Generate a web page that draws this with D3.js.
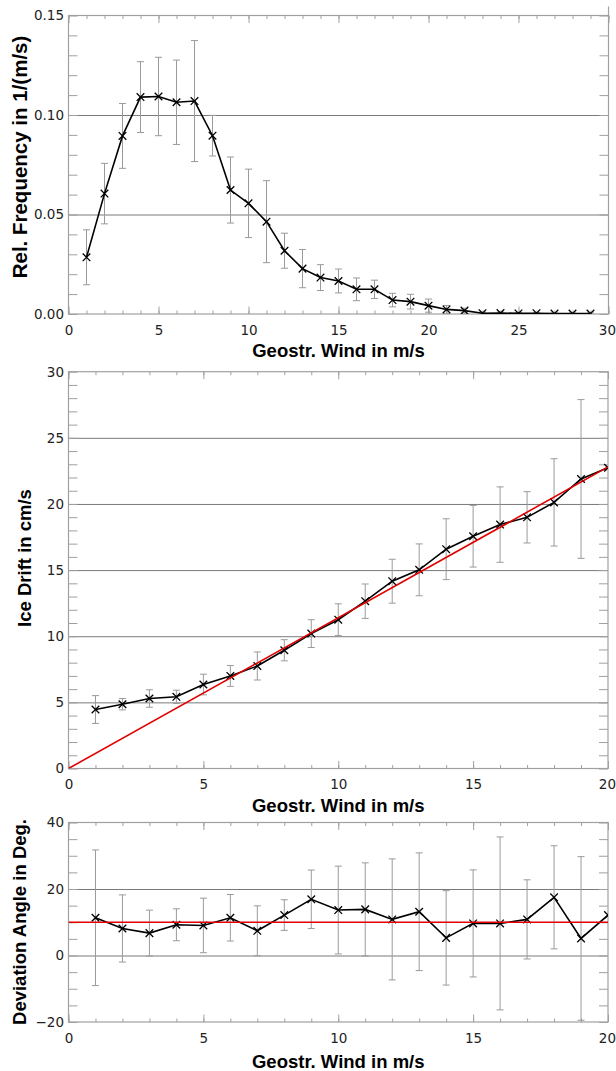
<!DOCTYPE html>
<html><head><meta charset="utf-8">
<script src="https://cdn.jsdelivr.net/npm/d3@7/dist/d3.min.js"></script>
<style>body{margin:0;background:#fff}</style>
</head><body>
<svg id="chart" width="616" height="1071" xmlns="http://www.w3.org/2000/svg"></svg>
<script>
// ---------- data ----------
const freqX = [1,2,3,4,5,6,7,8,9,10,11,12,13,14,15,16,17,18,19,20,21,22,23,24,25,26,27,28,29];
const freqY = [0.0285,0.0605,0.0895,0.1090,0.1093,0.1064,0.1070,0.0896,0.0623,0.0556,0.0464,0.0318,0.0228,0.0183,0.0166,0.0124,0.0124,0.0070,0.0062,0.0042,0.0023,0.0017,0.0004,0.0005,0.0003,0.0004,0.0002,0.0002,0.0002];
const freqErr = [0.0138,0.0152,0.0163,0.0178,0.0197,0.0212,0.0304,0.0102,0.0166,0.0172,0.0206,0.0088,0.0096,0.0065,0.0060,0.0057,0.0046,0.0034,0.0037,0.0033,0.0020,0.0012,0.0006,0.0005,0.0004,0.0004,0.0003,0.0003,0.0003];

const driftX = [1,2,3,4,5,6,7,8,9,10,11,12,13,14,15,16,17,18,19,20];
const driftY = [4.46,4.86,5.29,5.42,6.35,7.00,7.75,8.94,10.20,11.25,12.65,14.16,15.02,16.58,17.56,18.44,18.99,20.12,21.89,22.74];
const driftErr = [1.05,0.43,0.66,0.50,0.78,0.79,1.06,0.80,1.05,1.20,1.30,1.66,1.96,2.30,2.33,2.85,1.94,3.30,6.00,0];
const driftFitX = [0,20];
const driftFitY = [0,22.8];

const angleX = [1,2,3,4,5,6,7,8,9,10,11,12,13,14,15,16,17,18,19,20];
const angleY = [11.35,8.13,6.73,9.24,9.04,11.35,7.43,12.16,16.90,13.67,13.87,10.86,13.16,5.30,9.65,9.65,10.86,17.50,5.13,12.16];
const angleErr = [20.4,10.1,6.9,4.8,8.2,7.0,7.5,4.6,8.8,13.2,14.0,18.2,17.7,14.2,16.1,26.0,11.9,15.5,24.6,0];
const angleRefX = [0,20];
const angleRefY = [10,10];

const freqYTicks = [0,0.05,0.10,0.15];
const driftYTicks = [0,5,10,15,20,25,30];
const angleYTicks = [-20,0,20,40];
const xTitle = "Geostr. Wind in m/s";

// ---------- drawing ----------
const svg = d3.select("#chart");
const TICKFONT = "'DejaVu Sans', sans-serif";
const TITLEFONT = "'Liberation Sans', Arial, sans-serif";
const FRAME = "#a0a0a0", GRID = "#7a7a7a", ERR = "#9a9a9a";

function panel(o) {
  const x = d3.scaleLinear().domain(o.xDomain).range([68.5, o.xRight]);
  const y = d3.scaleLinear().domain(o.yDomain).range([o.yBottom, o.yTop]);
  const [x0, x1] = x.range(), [yb, yt] = y.range();
  const g = svg.append("g");
  const id = "clip" + o.id;
  svg.append("clipPath").attr("id", id).append("rect")
     .attr("x", x0).attr("y", yt).attr("width", x1 - x0).attr("height", yb - yt);

  const xMaj = d3.range(o.xDomain[0], o.xDomain[1] + 0.001, o.xMajor);
  const xMin = d3.range(o.xDomain[0], o.xDomain[1] + 0.001, 1);
  const nMin = Math.round((o.yDomain[1] - o.yDomain[0]) / o.yMinor);
  const yMin = d3.range(0, nMin + 1).map(i => o.yDomain[0] + i * o.yMinor);
  const yInner = o.yTicks.slice(1, -1);

  const clean = sel => { sel.select(".domain").remove(); sel.selectAll("line").attr("stroke", FRAME); };

  // gridlines
  g.append("g").attr("transform", `translate(${x0},0)`)
    .call(d3.axisLeft(y).tickValues(yInner).tickSize(-(x1 - x0)).tickFormat(""))
    .call(s => { s.select(".domain").remove(); s.selectAll("line").attr("stroke", GRID).attr("stroke-width", 1); });

  // minor y ticks left/right
  g.append("g").attr("transform", `translate(${x0},0)`)
    .call(d3.axisLeft(y).tickValues(yMin).tickSize(-9).tickFormat("")).call(clean);
  g.append("g").attr("transform", `translate(${x1},0)`)
    .call(d3.axisRight(y).tickValues(yMin).tickSize(-9).tickFormat("")).call(clean);
  // x ticks top/bottom
  g.append("g").attr("transform", `translate(0,${yt})`)
    .call(d3.axisTop(x).tickValues(xMin).tickSize(-3.5).tickFormat("")).call(clean);
  g.append("g").attr("transform", `translate(0,${yt})`)
    .call(d3.axisTop(x).tickValues(xMaj).tickSize(-7.5).tickFormat("")).call(clean);
  g.append("g").attr("transform", `translate(0,${yb})`)
    .call(d3.axisBottom(x).tickValues(xMin).tickSize(-3.5).tickFormat("")).call(clean);
  const xmaxVal = o.xDomain[1];
  g.append("g").attr("transform", `translate(0,${yb})`)
    .call(d3.axisBottom(x).tickValues(xMaj).tickSize(-7.5).tickPadding(11).tickFormat(d3.format("d")))
    .call(clean)
    .call(s => s.selectAll("text").attr("font-family", TICKFONT).attr("font-size", 13.5).attr("fill", "#222"))
    .call(s => s.selectAll(".tick").filter(d => d === xmaxVal).select("text")
       .attr("text-anchor", "end").attr("x", 615.5 - x(xmaxVal)));
  // y labels
  g.append("g").attr("transform", `translate(${x0},0)`)
    .call(d3.axisLeft(y).tickValues(o.yTicks).tickSize(0).tickPadding(4.5).tickFormat(o.yFormat))
    .call(s => { s.select(".domain").remove(); s.selectAll("line").remove(); })
    .call(s => s.selectAll("text").attr("font-family", TICKFONT).attr("font-size", 13.5).attr("fill", "#222"));

  // frame
  g.append("rect").attr("x", x0).attr("y", yt).attr("width", x1 - x0).attr("height", yb - yt)
    .attr("fill", "none").attr("stroke", FRAME).attr("stroke-width", 1.2);
  if (o.extendRight) g.append("line").attr("x1", x1).attr("x2", x1).attr("y1", yt - 9).attr("y2", yt)
    .attr("stroke", FRAME).attr("stroke-width", 1.2);

  // titles
  g.append("text").attr("x", (x0 + x1) / 2).attr("y", o.xTitleY).attr("text-anchor", "middle")
    .attr("font-family", TITLEFONT).attr("font-weight", "bold").attr("font-size", 18.5).text(xTitle);
  g.append("text").attr("transform", `translate(${o.yTitleX},${o.yTitleCY}) rotate(-90)`)
    .attr("text-anchor", "middle").attr("font-family", TITLEFONT).attr("font-weight", "bold")
    .attr("font-size", o.yTitleSize).text(o.yTitle);

  // data
  const dg = g.append("g").attr("clip-path", `url(#${id})`);
  const pts = o.X.map((v, i) => ({x: v, y: o.Y[i], e: o.E[i]}));
  const eb = dg.append("g").attr("stroke", ERR).attr("stroke-width", 1).attr("fill", "none");
  pts.filter(d => d.e > 0).forEach(d => {
    const cx = x(d.x), ya = y(d.y + d.e), yb2 = y(d.y - d.e);
    eb.append("line").attr("x1", cx).attr("x2", cx).attr("y1", ya).attr("y2", yb2);
    eb.append("line").attr("x1", cx - 3.5).attr("x2", cx + 3.5).attr("y1", ya).attr("y2", ya);
    eb.append("line").attr("x1", cx - 3.5).attr("x2", cx + 3.5).attr("y1", yb2).attr("y2", yb2);
  });
  const line = d3.line().x(d => x(d.x)).y(d => y(d.y));
  dg.append("path").datum(pts).attr("d", line).attr("fill", "none").attr("stroke", "#000").attr("stroke-width", 1.6);
  dg.append("g").selectAll("path").data(pts).join("path")
    .attr("transform", d => `translate(${x(d.x)},${y(d.y)})`)
    .attr("d", "M-3.8,-3.8L3.8,3.8M-3.8,3.8L3.8,-3.8")
    .attr("stroke", "#000").attr("stroke-width", 1.3);
  if (o.RX) {
    const rp = o.RX.map((v, i) => ({x: v, y: o.RY[i]}));
    dg.append("path").datum(rp).attr("d", line).attr("fill", "none").attr("stroke", "#e00000").attr("stroke-width", 1.6);
  }
}

panel({id: 1, xDomain: [0, 30], xRight: 608.5, xMajor: 5, yDomain: [0, 0.15], yBottom: 314, yTop: 15.5,
  yMinor: 0.01, yTicks: freqYTicks, yFormat: d3.format(".2f"), xTitleY: 356.5,
  yTitle: "Rel. Frequency in 1/(m/s)", yTitleX: 27, yTitleCY: 157, yTitleSize: 20.5, extendRight: true,
  X: freqX, Y: freqY, E: freqErr});

panel({id: 2, xDomain: [0, 20], xRight: 608, xMajor: 5, yDomain: [0, 30], yBottom: 768.5, yTop: 371.7,
  yMinor: 1, yTicks: driftYTicks, yFormat: d3.format("d"), xTitleY: 812,
  yTitle: "Ice Drift in cm/s", yTitleX: 31, yTitleCY: 558, yTitleSize: 18.5,
  X: driftX, Y: driftY, E: driftErr, RX: driftFitX, RY: driftFitY});

panel({id: 3, xDomain: [0, 20], xRight: 608, xMajor: 5, yDomain: [-20, 40], yBottom: 1022, yTop: 822.5,
  yMinor: 5, yTicks: angleYTicks, yFormat: d => d < 0 ? "\u2212" + Math.abs(d) : String(d), xTitleY: 1067.5,
  yTitle: "Deviation Angle in Deg.", yTitleX: 26, yTitleCY: 922, yTitleSize: 18.5,
  X: angleX, Y: angleY, E: angleErr, RX: angleRefX, RY: angleRefY});
</script>
</body></html>
